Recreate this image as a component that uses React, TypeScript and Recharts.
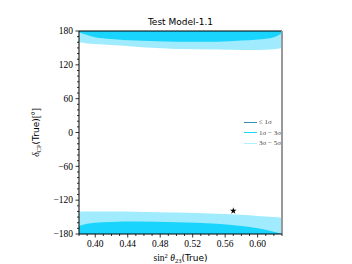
import React from 'react';
import { ComposedChart, Area, XAxis, YAxis, Scatter, ZAxis, ReferenceLine } from 'recharts';

// sin^2(theta23) sample points
const sin2Theta23 = [0.38, 0.39, 0.40, 0.42, 0.45, 0.50, 0.55, 0.58, 0.60, 0.62, 0.63];
// upper band (near +180): lower edge of 1σ-3σ and 3σ-5σ regions
const topDarkLow = [178, 173, 169, 166, 163, 161, 161, 163, 165, 169, 176];
const topLightLow = [160, 158, 157, 155, 152, 148, 147, 146.5, 146.5, 147.5, 150];
// lower band (near -180): upper edge of 3σ-5σ and 1σ-3σ regions
const botLightHigh = [-140.5, -140, -140, -140, -140.5, -142, -144, -146, -148, -150, -151];
const botDarkHigh = [-166, -162, -160, -158.5, -158, -159, -162, -166, -170, -176, -180];

const bestFit = [{ x: 0.57, y: -139 }];

const xTicks = [0.38, 0.39, 0.40, 0.41, 0.42, 0.43, 0.44, 0.45, 0.46, 0.47, 0.48, 0.49, 0.50, 0.51, 0.52, 0.53, 0.54, 0.55, 0.56, 0.57, 0.58, 0.59, 0.60, 0.61, 0.62, 0.63];
const xMajor = ['0.40', '0.44', '0.48', '0.52', '0.56', '0.60'];
const yTicks = [-180, -170, -160, -150, -140, -130, -120, -110, -100, -90, -80, -70, -60, -50, -40, -30, -20, -10, 0, 10, 20, 30, 40, 50, 60, 70, 80, 90, 100, 110, 120, 130, 140, 150, 160, 170, 180];
const yMajor = [-180, -120, -60, 0, 60, 120, 180];

const legendLabels = ['≤ 1σ', '1σ − 3σ', '3σ − 5σ'];
const legendColors = ['#2f93ae', '#14dcff', '#aef0ff'];

const DARK = '#19d4fc';
const LIGHT = '#a0ecfe';
const SERIF = '"Liberation Serif", "DejaVu Serif", serif';
const SANS = '"DejaVu Sans", sans-serif';

const data = sin2Theta23.map((x, i) => ({
  x,
  topDark: [topDarkLow[i], 180],
  topLight: [topLightLow[i], 180],
  botLight: [-180, botLightHigh[i]],
  botDark: [-180, botDarkHigh[i]],
}));

const XTick = (props: any) => {
  const { x, y, payload } = props;
  const label = Number(payload.value).toFixed(2);
  const major = xMajor.includes(label);
  return (
    <g>
      <line x1={x} x2={x} y1={y} y2={y + (major ? 3.5 : 2)} stroke="#000" strokeWidth={0.8} />
      {major && (
        <text x={x} y={y + 13} textAnchor="middle" fontFamily={SERIF} fontSize={9.5} fill="#000">
          {label}
        </text>
      )}
    </g>
  );
};

const YTick = (props: any) => {
  const { x, y, payload } = props;
  const v = Math.round(payload.value);
  const major = yMajor.includes(v);
  const label = v < 0 ? '−' + Math.abs(v) : String(v);
  return (
    <g>
      <line x1={x - (major ? 3.5 : 2)} x2={x} y1={y} y2={y} stroke="#000" strokeWidth={0.8} />
      {major && (
        <text x={x - 6} y={y + 3.3} textAnchor="end" fontFamily={SERIF} fontSize={9.5} fill="#000">
          {label}
        </text>
      )}
    </g>
  );
};

const XLabel = (props: any) => {
  const { viewBox } = props;
  const cx = viewBox.x + viewBox.width / 2;
  const y = viewBox.y + 27;
  return (
    <text x={cx} y={y} textAnchor="middle" fontSize={9.5} fill="#000">
      <tspan fontFamily={SERIF}>sin</tspan>
      <tspan fontFamily={SERIF} fontSize={6.5} dy={-3.5}>2</tspan>
      <tspan fontFamily={SERIF} fontStyle="italic" dy={3.5}> θ</tspan>
      <tspan fontFamily={SERIF} fontSize={6.5} dy={2}>23</tspan>
      <tspan fontFamily={SANS} fontSize={9} dy={-2}>(True)</tspan>
    </text>
  );
};

const YLabel = (props: any) => {
  const { viewBox } = props;
  const cy = viewBox.y + viewBox.height / 2;
  const x = 39;
  return (
    <text x={x} y={cy} transform={`rotate(-90 ${x} ${cy})`} textAnchor="middle" fontSize={9.5} fill="#000">
      <tspan fontFamily={SERIF} fontStyle="italic">δ</tspan>
      <tspan fontFamily={SERIF} fontSize={6.5} dy={2}>CP</tspan>
      <tspan fontFamily={SANS} fontSize={9} dy={-2}>(True)</tspan>
      <tspan fontFamily={SERIF}>[°]</tspan>
    </text>
  );
};

export default function App() {
  return (
    <div style={{ position: 'absolute', left: 0, top: 0, width: 352, height: 264, background: '#fff' }}>
      <ComposedChart width={352} height={264} data={data} margin={{ top: 31, right: 70, bottom: 0, left: 0 }}>
        <XAxis
          dataKey="x"
          type="number"
          domain={[0.38, 0.63]}
          allowDataOverflow
          ticks={xTicks}
          interval={0}
          tick={<XTick />}
          tickLine={false}
          tickSize={0}
          tickMargin={0}
          axisLine={{ stroke: '#000', strokeWidth: 1 }}
          height={30}
          label={<XLabel />}
        />
        <YAxis
          type="number"
          domain={[-180, 180]}
          allowDataOverflow
          ticks={yTicks}
          interval={0}
          tick={<YTick />}
          tickLine={false}
          tickSize={0}
          tickMargin={0}
          axisLine={{ stroke: '#000', strokeWidth: 1 }}
          width={79}
          label={<YLabel />}
        />
        <ZAxis range={[14, 14]} />
        <Area dataKey="topLight" type="monotone" stroke="none" fill={LIGHT} fillOpacity={1} isAnimationActive={false} />
        <Area dataKey="topDark" type="monotone" stroke="none" fill={DARK} fillOpacity={1} isAnimationActive={false} />
        <Area dataKey="botLight" type="monotone" stroke="none" fill={LIGHT} fillOpacity={1} isAnimationActive={false} />
        <Area dataKey="botDark" type="monotone" stroke="none" fill={DARK} fillOpacity={1} isAnimationActive={false} />
        <ReferenceLine y={180} stroke="#000" strokeWidth={1} />
        <ReferenceLine x={0.63} stroke="#999" strokeWidth={2} />
        <Scatter data={bestFit} dataKey="y" shape="star" fill="#000" isAnimationActive={false} />
      </ComposedChart>
      <div style={{ position: 'absolute', left: 0, top: 16, width: 361, textAlign: 'center', fontFamily: SANS, fontSize: 9, color: '#000', lineHeight: '12px' }}>
        Test Model-1.1
      </div>
      <div style={{ position: 'absolute', left: 244, top: 117, fontFamily: SERIF, fontSize: 7, color: '#444', lineHeight: '10.5px', whiteSpace: 'nowrap' }}>
        {legendLabels.map((l, i) => (
          <div key={l} style={{ display: 'flex', alignItems: 'center', height: 10.5 }}>
            <div style={{ width: 13, height: 1.2, background: legendColors[i], marginRight: 2 }} />
            <span>{l}</span>
          </div>
        ))}
      </div>
    </div>
  );
}
